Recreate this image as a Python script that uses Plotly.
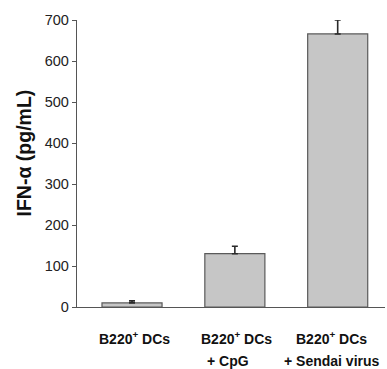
import plotly.graph_objects as go

categories = ["B220<sup>+</sup> DCs", "B220<sup>+</sup> DCs", "B220<sup>+</sup> DCs"]
sublabels = ["", "+ CpG", "+ Sendai virus"]
values = [10, 130, 666]
errors = [5, 18, 34]
y_ticks = [0, 100, 200, 300, 400, 500, 600, 700]
y_title = "IFN-α (pg/mL)"

FONT = "Liberation Sans, Arial, sans-serif"
xpos = list(range(len(values)))
line1_shift = [2, 2, -6]
line2_shift = [0, -7, -6]

fig = go.Figure()
fig.add_trace(go.Bar(
    x=xpos, y=values, width=0.584,
    marker=dict(color="#c6c6c6", line=dict(color="#5a5a5a", width=1.2)),
    error_y=dict(type="data", symmetric=False, array=errors,
                 arrayminus=[0] * len(errors),
                 color="#2a2a2a", thickness=1.6, width=3),
))

label_font = dict(family=FONT, size=14, color="#111", weight="bold")
annotations = []
for i, (c, s) in enumerate(zip(categories, sublabels)):
    annotations.append(dict(x=i, y=0, xref="x", yref="paper", text=c,
                            showarrow=False, xanchor="center", yanchor="middle",
                            yshift=-31, xshift=line1_shift[i], font=label_font))
    if s:
        annotations.append(dict(x=i, y=0, xref="x", yref="paper", text=s,
                                showarrow=False, xanchor="center", yanchor="middle",
                                yshift=-54, xshift=line2_shift[i], font=label_font))
annotations.append(dict(x=0, y=0.5, xref="paper", yref="paper", text=y_title,
                        textangle=-90, showarrow=False, xanchor="center",
                        yanchor="middle", xshift=-54, yshift=10,
                        font=dict(family=FONT, size=19.5, color="#111", weight="bold")))

fig.update_layout(
    width=387, height=369,
    margin=dict(l=77, r=2, t=20, b=61.7),
    paper_bgcolor="white", plot_bgcolor="white",
    showlegend=False,
    annotations=annotations,
    font=dict(family=FONT),
    xaxis=dict(range=[-0.535, 2.46], showticklabels=False, ticks="",
               showline=True, linecolor="#555", linewidth=1.3,
               showgrid=False, zeroline=False, fixedrange=True),
    yaxis=dict(range=[0, 700], tickvals=y_ticks, ticks="outside", ticklen=4,
               tickcolor="#555", tickwidth=1.2,
               showline=True, linecolor="#555", linewidth=1.3,
               showgrid=False, zeroline=False,
               tickfont=dict(family=FONT, size=14.5, color="#222")),
)

fig.write_html("out.html")
